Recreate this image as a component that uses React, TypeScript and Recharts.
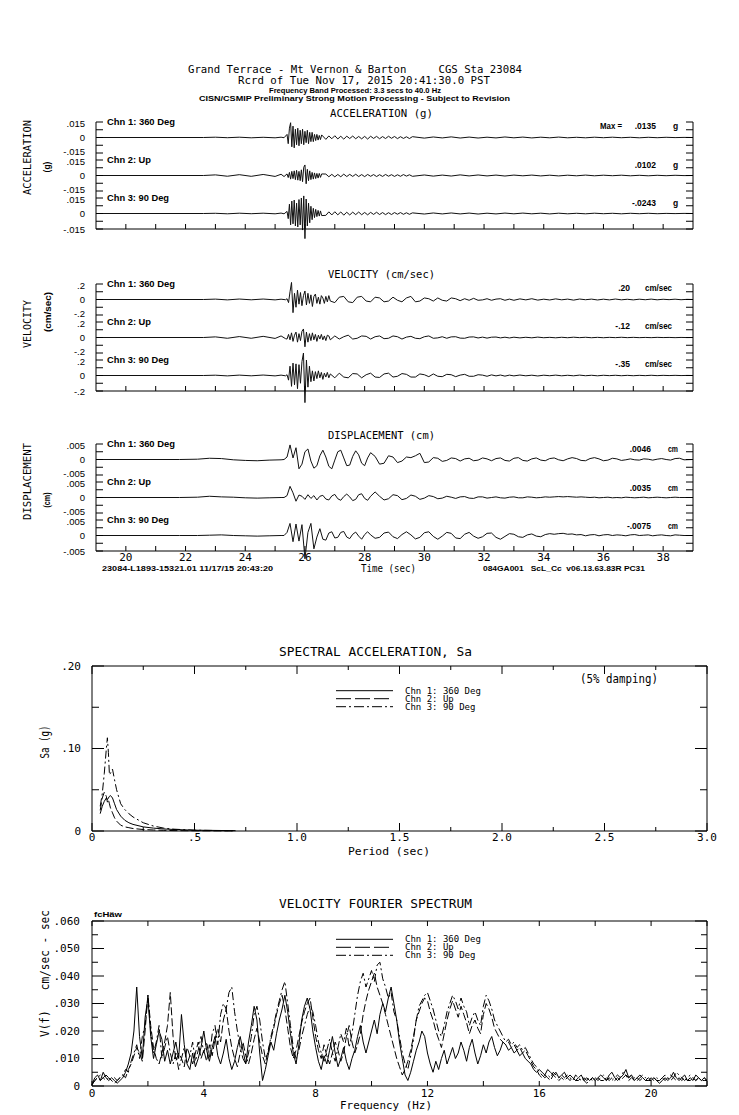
import React from "react";
import { LineChart, Line, XAxis, YAxis } from "recharts";

const MONO = "'DejaVu Sans Mono', monospace";
const SANS = "'Liberation Sans', Arial, sans-serif";

// ---------- acceleration (g) ----------
const ACC_T = [
  19, 22.6, 23.0, 23.4, 23.8, 24.2, 24.6, 25.0, 25.2, 25.3,
  25.40, 25.44, 25.48, 25.52, 25.56, 25.60, 25.64, 25.68, 25.72, 25.76,
  25.80, 25.84, 25.88, 25.92, 25.96, 26.00, 26.04, 26.08, 26.12, 26.16,
  26.20, 26.24, 26.28, 26.32, 26.36, 26.40, 26.44, 26.48, 26.52, 26.56,
  26.7, 26.8, 26.9, 27.0, 27.1, 27.2, 27.3, 27.4, 27.5, 27.6,
  27.7, 27.8, 27.9, 28.0, 28.1, 28.2, 28.3, 28.4, 28.5, 28.6,
  28.7, 28.8, 28.9, 29.0, 29.1, 29.2, 29.3, 29.4, 29.5, 29.6,
  30.0, 30.3, 30.6, 30.9, 31.2, 31.5, 31.8, 32.1, 32.4, 32.7,
  33.0, 33.3, 33.6, 33.9, 34.2, 34.5, 34.8, 35.1, 35.4, 35.7,
  36.0, 36.3, 36.6, 36.9, 37.2, 37.5, 37.8, 38.1, 38.4, 38.7,
  39.0,
];
const ACC_360 = [
  0, 0, .0003, -.0002, .0003, -.0003, .0002, -.0003, .0003, -.0002,
  .003, -.006, .009, .0143, -.009, .011, -.010, .008, -.007, .009,
  -.008, .007, -.006, .008, -.007, .006, -.005, .007, -.006, .005,
  -.004, .005, -.004, .003, -.003, .003, -.0025, .002, -.002, .0025,
  -.0018, .0015, -.0012, .0017, -.0014, .0012, -.0016, .0013, -.001, .0014,
  -.0012, .001, -.0013, .0011, -.0015, .0012, -.0009, .0011, -.0012, .0009,
  -.001, .0012, -.0008, .001, -.0011, .0008, -.0009, .0007, -.001, .0008,
  -.0006, .0005, -.0004, .0006, -.0005, .0004, -.0005, .0003, -.0004, .0005,
  -.0003, .0004, -.0004, .0003, -.0003, .0004, -.0003, .0002, -.0003, .0003,
  -.0002, .0003, -.0002, .0002, -.0003, .0002, -.0002, .0002, -.0001, .0001,
  0,
];
const ACC_UP = [
  0, 0, .0006, -.0007, .0008, -.0008, .001, -.0009, .0012, -.001,
  .0015, -.002, .003, -.0035, .004, -.003, .0045, -.004, .005, -.0045,
  .004, -.005, .0055, -.006, .008, .0102, -.008, .006, -.005, .0045,
  -.004, .003, -.0035, .0025, -.003, .002, -.0025, .002, -.0018, .0015,
  .0014, -.0012, .0011, -.0013, .001, -.0012, .0013, -.001, .0011, -.0009,
  .0012, -.001, .0009, -.0011, .001, -.0008, .0009, -.001, .0008, -.0009,
  .001, -.0007, .0008, -.0009, .0007, -.0008, .0009, -.0006, .0007, -.0008,
  .0005, -.0006, .0004, -.0005, .0006, -.0004, .0005, -.0004, .0004, -.0005,
  .0004, -.0003, .0004, -.0004, .0003, -.0004, .0003, -.0003, .0004, -.0003,
  .0003, -.0002, .0003, -.0003, .0002, -.0003, .0002, -.0002, .0002, -.0001,
  0,
];
const ACC_90 = [
  0, 0, .0002, -.0003, .0003, -.0002, .0003, -.0003, .0004, -.0003,
  .002, -.005, .009, -.011, .012, -.010, .013, -.012, .010, -.013,
  .0135, -.011, .015, -.016, .017, -.0243, .014, -.012, .010, -.009,
  .007, -.006, .005, -.004, .004, -.003, .003, -.0025, .0025, -.002,
  -.0018, .0016, -.0014, .0017, -.0013, .0015, -.0016, .0012, -.0014, .0013,
  -.0011, .0014, -.0012, .001, -.0013, .0011, -.0009, .0012, -.001, .0009,
  -.0011, .0008, -.001, .0009, -.0007, .0009, -.0008, .0007, -.0008, .0006,
  -.0005, .0005, -.0004, .0005, -.0004, .0004, -.0005, .0003, -.0004, .0004,
  -.0003, .0004, -.0003, .0003, -.0004, .0003, -.0003, .0002, -.0003, .0003,
  -.0002, .0002, -.0003, .0002, -.0002, .0002, -.0002, .0001, -.0001, .0001,
  0,
];

// ---------- velocity (cm/sec) ----------
const VEL_T = [
  19, 22.6, 23.0, 23.4, 23.8, 24.2, 24.6, 25.0, 25.2, 25.35,
  25.40, 25.45, 25.50, 25.55, 25.60, 25.65, 25.70, 25.75, 25.80, 25.85,
  25.90, 25.95, 26.00, 26.05, 26.10, 26.15, 26.20, 26.25, 26.30, 26.35,
  26.40, 26.45, 26.50, 26.55, 26.60, 26.65, 26.70, 26.75, 26.80, 26.85,
  27.00, 27.15, 27.30, 27.45, 27.60, 27.75, 27.90, 28.05, 28.20, 28.35,
  28.50, 28.65, 28.80, 28.95, 29.10, 29.25, 29.40, 29.55, 29.70, 29.85,
  30.00, 30.15, 30.30, 30.45, 30.60, 30.75, 30.90, 31.05, 31.20, 31.35,
  31.50, 31.65, 31.80, 31.95, 32.10, 32.25, 32.40, 32.55, 32.70, 32.85,
  33.0, 33.2, 33.4, 33.6, 33.8, 34.0, 34.2, 34.4, 34.6, 34.8,
  35.0, 35.2, 35.4, 35.6, 35.8, 36.0, 36.2, 36.4, 36.6, 36.8,
  37.0, 37.2, 37.4, 37.6, 37.8, 38.0, 38.2, 38.4, 38.6, 38.8,
  39.0,
];
const VEL_360 = [
  0, 0, .005, -.005, .006, -.004, .006, -.005, .004, -.003,
  .01, -.04, .10, .22, -.17, .08, -.10, .12, -.06, .09,
  -.08, .05, .11, -.07, .08, -.05, .06, -.09, .04, .07,
  -.05, .03, -.06, .05, .02, -.05, .04, -.03, .05, -.02,
  -.04, .03, .04, -.03, -.04, .03, .04, -.02, -.03, .03,
  .02, -.03, -.02, .03, -.01, -.03, .02, .04, -.03, -.02,
  .02, .01, -.02, .02, -.01, -.02, .02, .01, -.015, .01,
  -.01, .015, -.01, -.005, .01, -.01, .005, .01, -.01, .005,
  -.01, .008, -.005, .01, -.008, .004, -.006, .008, -.004, .005,
  -.008, .006, -.003, .005, -.006, .004, -.005, .006, -.004, .003,
  -.005, .004, -.003, .005, -.004, .003, -.002, .004, -.003, .002,
  0,
];
const VEL_UP = [
  0, 0, .008, -.01, .012, -.01, .015, -.012, .02, -.015,
  -.02, .04, -.03, .06, -.05, .03, .07, -.06, .05, -.04,
  .08, .11, -.12, .07, -.06, .05, -.04, .06, -.03, .04,
  -.05, .03, -.02, .04, -.03, .02, -.04, .03, .02, -.03,
  .02, -.02, .01, .03, -.02, -.01, .02, .015, -.02, .01,
  .02, -.015, -.01, .02, .01, -.02, .005, .015, -.01, -.015,
  .01, .02, -.01, -.005, .01, -.01, .008, .01, -.008, -.01,
  .006, .008, -.006, .005, -.008, .004, .006, -.005, .004, -.006,
  .004, -.005, .003, -.004, .005, -.003, .002, -.004, .003, -.003,
  .004, -.002, .003, -.003, .002, -.003, .002, -.002, .003, -.002,
  .002, -.002, .001, -.002, .002, -.001, .001, -.002, .001, -.001,
  0,
];
const VEL_90 = [
  0, 0, .004, -.005, .005, -.004, .006, -.005, .005, -.004,
  .01, -.06, .12, -.14, .16, -.12, .15, -.17, .14, -.10,
  .18, .29, -.35, .20, -.15, .12, -.08, .06, -.07, .05,
  -.04, .06, -.03, .04, -.05, .03, -.02, .04, -.03, .02,
  -.03, .03, -.02, -.03, .025, .02, -.03, .01, .03, -.02,
  -.025, .02, .03, -.02, -.01, .025, .015, -.02, -.02, .02,
  .01, -.015, .02, -.01, -.015, .015, .01, -.015, .005, .015,
  -.01, -.01, .01, .005, -.01, .008, -.005, .006, -.008, .005,
  -.005, .006, -.004, .004, -.006, .004, -.003, .005, -.004, .003,
  -.004, .005, -.003, .003, -.004, .003, -.002, .003, -.003, .002,
  -.003, .002, -.002, .003, -.002, .002, -.001, .002, -.001, .001,
  0,
];

// ---------- displacement (cm) ----------
const DIS_T = [
  19, 21.8, 22.4, 22.8, 23.2, 23.6, 24.0, 24.4, 24.8, 25.2,
  25.3, 25.4, 25.5, 25.6, 25.7, 25.8, 25.9, 26.0, 26.1, 26.2,
  26.3, 26.4, 26.5, 26.6, 26.7, 26.8, 26.9, 27.0, 27.1, 27.2,
  27.3, 27.4, 27.5, 27.6, 27.7, 27.8, 27.9, 28.0, 28.1, 28.2,
  28.35, 28.50, 28.65, 28.80, 28.95, 29.10, 29.25, 29.40, 29.55, 29.70,
  29.85, 30.00, 30.15, 30.30, 30.45, 30.60, 30.75, 30.90, 31.05, 31.20,
  31.35, 31.50, 31.65, 31.80, 31.95, 32.10, 32.25, 32.40, 32.55, 32.70,
  32.85, 33.00, 33.15, 33.30, 33.45, 33.60, 33.75, 33.90, 34.05, 34.20,
  34.35, 34.50, 34.65, 34.80, 34.95, 35.10, 35.25, 35.40, 35.55, 35.70,
  35.85, 36.00, 36.15, 36.30, 36.45, 36.60, 36.75, 36.90, 37.05, 37.20,
  37.35, 37.50, 37.65, 37.80, 37.95, 38.10, 38.25, 38.40, 38.55, 38.70,
  39.0,
];
const DIS_360 = [
  0, 0, .0001, .0004, .0003, -.0001, -.0003, -.0004, -.0002, -.0001,
  0, .0008, .0047, .0005, .0038, -.003, -.0015, .0025, .0034, -.0005,
  -.0028, -.002, .0012, .003, .0008, -.0022, -.003, -.0002, .0025, .003,
  .0005, -.002, -.0018, .001, .0028, .0015, -.0012, -.002, .0005, .0022,
  .001, -.0015, -.0012, .0012, .0008, -.001, -.0005, .0008, .0006, .0012,
  .002, -.001, -.0008, .0006, .0004, -.0006, -.0003, .0005, .0003, -.0005,
  .0002, .0004, -.0004, -.0002, .0005, .0002, -.0004, .0003, .0005, -.0003,
  -.0005, .0004, .0006, -.0003, -.0005, .0002, .0005, -.0002, -.0004, .0003,
  .0005, -.0001, -.0004, .0002, .0006, .0003, -.0003, -.0004, .0003, .0006,
  .0002, -.0004, -.0002, .0004, .0002, -.0003, -.0001, .0002, -.0001, -.0002,
  .0002, .0001, -.0002, .0001, .0003, 0, -.0002, .0003, .0004, -.0001,
  0,
];
const DIS_UP = [
  0, 0, .0001, .0004, .0002, .0001, -.0001, -.0002, -.0001, 0,
  0, .0006, .0036, .0015, -.0012, .0008, .0004, -.0006, .0009, -.0003,
  .0006, -.0008, .0004, .0007, -.0005, -.0008, .0005, .001, -.0004, -.0009,
  .0003, .0011, .0002, -.001, -.0006, .0009, .0012, -.0003, -.0009, .0004,
  .0018, .0004, -.0008, -.0004, .0009, .0006, -.0007, -.0003, .0008, .0004,
  -.0006, -.0002, .0006, .0003, -.0004, -.0002, .0004, .0001, -.0003, .0002,
  .0003, -.0002, -.0003, .0002, .0002, -.0002, 0, .0002, -.0001, -.0002,
  .0001, .0002, -.0001, -.0001, .0002, .0001, -.0001, 0, .0002, .0001,
  .0002, .0003, .0002, .0003, .0002, .0001, .0002, .0001, 0, .0001,
  -.0001, 0, .0001, -.0001, 0, -.0001, .0001, 0, -.0001, 0,
  .0001, -.0001, 0, .0001, 0, -.0001, 0, .0001, 0, 0,
  0,
];
const DIS_90 = [
  0, 0, 0, .0001, .0002, 0, -.0001, -.0002, -.0001, 0,
  0, .001, .0039, -.002, .0037, -.0018, .0035, -.0075, .001, .0039,
  -.0043, -.0005, .0022, -.0012, -.0015, .0008, .0012, -.0008, -.0006, .001,
  .0013, -.0005, -.001, .0004, .0011, -.0002, -.0012, .0003, .0012, .0002,
  -.0009, -.0006, .0008, .0011, -.0004, -.001, .0003, .0012, .0002, -.0011,
  -.0006, .0009, .0012, -.0003, -.0012, -.0002, .001, .0007, -.0008, -.001,
  .0004, .001, -.0002, -.0009, -.0004, .0007, .0008, -.0006, -.0012, -.0003,
  .0006, .0004, -.0004, -.0006, .0002, .0005, -.0002, -.0004, .0003, .0006,
  .0004, .0006, .0007, .0004, .0005, .0002, .0003, -.0001, .0002, .0003,
  -.0001, .0002, .0003, 0, .0002, .0001, -.0001, .0002, .0003, 0,
  .0001, .0002, -.0001, .0001, .0002, 0, -.0001, .0002, .0001, 0,
  0,
];
const TIME_TICKS = [20, 21, 22, 23, 24, 25, 26, 27, 28, 29, 30, 31, 32, 33, 34, 35, 36, 37, 38];

// ---------- spectral acceleration, 5% damping ----------
const PERIOD = [.04, .05, .06, .07, .075, .08, .085, .09, .1, .11, .12, .14, .16, .18, .2, .25, .3, .35, .4, .5, .6, .7];
const SA_360 = [.021, .030, .036, .040, .038, .040, .042, .043, .040, .033, .026, .018, .013, .010, .008, .005, .0035, .0025, .0018, .001, .0007, .0004];
const SA_UP = [.025, .040, .047, .042, .035, .038, .033, .028, .022, .016, .012, .007, .005, .004, .003, .0018, .0012, .0008, .0005, .0003, .0002, .0001];
const SA_90 = [.030, .045, .070, .100, .113, .095, .068, .070, .075, .062, .050, .033, .026, .021, .017, .010, .006, .0035, .0022, .001, .0006, .0003];
const SA_X_TICKS = [0, .25, .5, .75, 1, 1.25, 1.5, 1.75, 2, 2.25, 2.5, 2.75, 3];
const SA_Y_TICKS = [0, .05, .1, .15, .2];

// ---------- velocity fourier spectrum ----------
const FREQ = [
  0, .1, .2, .3, .4, .5, .6, .7, .8, .9,
  1, 1.1, 1.2, 1.3, 1.4, 1.5, 1.6, 1.7, 1.8, 1.9,
  2, 2.1, 2.2, 2.3, 2.4, 2.5, 2.6, 2.7, 2.8, 2.9,
  3, 3.1, 3.2, 3.3, 3.4, 3.5, 3.6, 3.7, 3.8, 3.9,
  4, 4.1, 4.2, 4.3, 4.4, 4.5, 4.6, 4.7, 4.8, 4.9,
  5, 5.1, 5.2, 5.3, 5.4, 5.5, 5.6, 5.7, 5.8, 5.9,
  6, 6.1, 6.2, 6.3, 6.4, 6.5, 6.6, 6.7, 6.8, 6.9,
  7, 7.1, 7.2, 7.3, 7.4, 7.5, 7.6, 7.7, 7.8, 7.9,
  8, 8.1, 8.2, 8.3, 8.4, 8.5, 8.6, 8.7, 8.8, 8.9,
  9, 9.1, 9.2, 9.3, 9.4, 9.5, 9.6, 9.7, 9.8, 9.9,
  10, 10.1, 10.2, 10.3, 10.4, 10.5, 10.6, 10.7, 10.8, 10.9,
  11, 11.1, 11.2, 11.3, 11.4, 11.5, 11.6, 11.7, 11.8, 11.9,
  12, 12.1, 12.2, 12.3, 12.4, 12.5, 12.6, 12.7, 12.8, 12.9,
  13, 13.1, 13.2, 13.3, 13.4, 13.5, 13.6, 13.7, 13.8, 13.9,
  14, 14.1, 14.2, 14.3, 14.4, 14.5, 14.6, 14.7, 14.8, 14.9,
  15, 15.1, 15.2, 15.3, 15.4, 15.5, 15.6, 15.7, 15.8, 15.9,
  16, 16.1, 16.2, 16.3, 16.4, 16.5, 16.6, 16.7, 16.8, 16.9,
  17, 17.1, 17.2, 17.3, 17.4, 17.5, 17.6, 17.7, 17.8, 17.9,
  18, 18.1, 18.2, 18.3, 18.4, 18.5, 18.6, 18.7, 18.8, 18.9,
  19, 19.1, 19.2, 19.3, 19.4, 19.5, 19.6, 19.7, 19.8, 19.9,
  20, 20.1, 20.2, 20.3, 20.4, 20.5, 20.6, 20.7, 20.8, 20.9,
  21, 21.1, 21.2, 21.3, 21.4, 21.5, 21.6, 21.7, 21.8, 21.9,
  22,
];
const FS_360 = [
  .0005, .003, .004, .002, .005, .003, .002, .003, .002, .001,
  .002, .003, .005, .008, .012, .020, .036, .018, .010, .025,
  .032, .018, .010, .015, .020, .017, .009, .013, .008, .012,
  .016, .010, .026, .015, .008, .006, .012, .007, .010, .014,
  .020, .013, .009, .014, .018, .011, .008, .012, .017, .010,
  .006, .009, .014, .018, .013, .008, .016, .022, .029, .024,
  .012, .002, .006, .011, .016, .013, .019, .024, .028, .033,
  .027, .019, .012, .008, .015, .024, .029, .032, .028, .020,
  .014, .009, .006, .011, .008, .013, .018, .012, .007, .010,
  .014, .009, .006, .010, .013, .018, .022, .016, .012, .016,
  .020, .024, .019, .026, .030, .027, .032, .036, .030, .024,
  .016, .010, .004, .002, .005, .009, .013, .016, .020, .018,
  .012, .008, .005, .009, .006, .010, .013, .008, .011, .014,
  .010, .012, .016, .013, .009, .014, .017, .012, .008, .011,
  .015, .012, .016, .018, .014, .011, .013, .016, .015, .013,
  .014, .012, .013, .011, .012, .010, .009, .008, .006, .005,
  .006, .005, .004, .006, .005, .004, .005, .003, .004, .005,
  .003, .004, .003, .002, .003, .004, .002, .003, .002, .003,
  .002, .003, .004, .003, .002, .004, .005, .003, .002, .003,
  .004, .006, .003, .004, .002, .003, .004, .003, .002, .003,
  .002, .003, .002, .001, .002, .003, .002, .003, .005, .003,
  .002, .003, .004, .002, .003, .002, .004, .003, .002, .003,
  .002,
];
const FS_UP = [
  .0005, .002, .003, .002, .003, .002, .003, .002, .001, .002,
  .003, .004, .003, .006, .008, .011, .014, .012, .009, .020,
  .033, .022, .014, .010, .008, .012, .016, .022, .034, .018,
  .009, .012, .010, .007, .014, .011, .008, .012, .016, .010,
  .013, .009, .015, .011, .017, .021, .016, .024, .028, .020,
  .014, .010, .007, .012, .016, .011, .008, .012, .017, .021,
  .016, .011, .008, .013, .017, .021, .026, .030, .033, .028,
  .021, .014, .010, .013, .018, .023, .027, .030, .032, .025,
  .018, .013, .010, .015, .011, .008, .012, .016, .013, .009,
  .012, .018, .022, .016, .012, .015, .019, .026, .031, .035,
  .038, .041, .036, .033, .030, .026, .022, .018, .014, .010,
  .007, .004, .006, .009, .013, .018, .024, .027, .030, .032,
  .031, .027, .024, .020, .017, .014, .019, .024, .028, .031,
  .028, .025, .029, .026, .023, .019, .022, .024, .021, .019,
  .026, .030, .028, .025, .021, .019, .017, .016, .015, .016,
  .014, .015, .013, .014, .012, .013, .011, .009, .007, .006,
  .004, .003, .004, .003, .002, .004, .003, .002, .003, .002,
  .003, .002, .003, .002, .002, .003, .002, .001, .002, .003,
  .002, .003, .002, .002, .003, .002, .003, .002, .003, .002,
  .003, .004, .002, .003, .002, .003, .002, .003, .002, .002,
  .002, .003, .002, .002, .003, .002, .003, .004, .003, .002,
  .003, .002, .003, .002, .002, .003, .002, .003, .002, .002,
  .002,
];
const FS_90 = [
  .0005, .002, .003, .004, .003, .004, .003, .002, .003, .002,
  .003, .004, .006, .005, .009, .012, .015, .010, .018, .022,
  .033, .020, .012, .016, .022, .010, .014, .018, .012, .008,
  .012, .006, .010, .014, .008, .011, .016, .009, .013, .018,
  .012, .016, .010, .019, .022, .015, .026, .030, .028, .034,
  .036, .027, .020, .014, .010, .008, .012, .018, .026, .029,
  .024, .016, .010, .012, .018, .022, .027, .031, .035, .038,
  .030, .022, .014, .010, .013, .018, .022, .026, .029, .027,
  .022, .016, .012, .009, .013, .017, .012, .009, .014, .019,
  .016, .021, .014, .019, .026, .033, .038, .041, .036, .039,
  .042, .038, .044, .045, .039, .036, .032, .034, .027, .024,
  .018, .012, .008, .006, .011, .017, .024, .029, .031, .033,
  .034, .031, .028, .024, .020, .018, .022, .027, .030, .033,
  .031, .028, .032, .029, .027, .022, .025, .027, .024, .022,
  .029, .033, .031, .028, .024, .022, .020, .018, .016, .017,
  .015, .016, .014, .015, .013, .014, .012, .010, .008, .007,
  .005, .004, .003, .004, .003, .005, .004, .003, .004, .003,
  .004, .003, .002, .004, .003, .002, .003, .002, .003, .002,
  .003, .002, .003, .004, .002, .003, .002, .003, .004, .003,
  .005, .004, .003, .004, .003, .002, .003, .004, .003, .002,
  .003, .002, .003, .002, .003, .004, .003, .002, .003, .005,
  .004, .003, .002, .003, .004, .003, .002, .003, .002, .003,
  .002,
];
const FS_X_TICKS = [0, 2, 4, 6, 8, 10, 12, 14, 16, 18, 20, 22];
const FS_Y_TICKS = [0, .005, .01, .015, .02, .025, .03, .035, .04, .045, .05, .055, .06];

// ---------- helpers ----------
const W = 739;
const dec = (v: number, d: number) => (Math.abs(v) < 1e-12 ? "0" : v.toFixed(d).replace(/^(-?)0\./, "$1."));
const isMult = (v: number, m: number) => Math.abs(v / m - Math.round(v / m)) < 1e-6;

type TickCfg = {
  side: "left" | "right" | "top" | "bottom";
  len: (v: number) => number;
  label?: (v: number) => string;
  labelDy?: (v: number) => number;
  gap?: number;
  size?: number;
  font?: string;
  tail?: (v: number) => number;
};

function makeTick(c: TickCfg) {
  return (p: any) => {
    const v = p.payload.value as number;
    const x = p.x as number;
    const y = p.y as number;
    const L = c.len(v);
    const s = c.label ? c.label(v) : "";
    const g = c.gap ?? 10;
    const tl = c.tail ? c.tail(v) : 0;
    let ln = [x, y, x, y];
    let tx = x;
    let ty = y;
    let anchor = "middle";
    if (c.side === "left") { ln = [x, y, x + L, y]; tx = x - g; anchor = "end"; }
    else if (c.side === "right") { ln = [x, y, x - L, y]; tx = x + g; anchor = "start"; }
    else if (c.side === "bottom") { ln = [x, y, x, y - L]; ty = y + g; }
    else { ln = [x, y, x, y + L]; ty = y - g; }
    if (c.labelDy) ty += c.labelDy(v);
    return (
      <g>
        <line x1={ln[0]} y1={ln[1]} x2={ln[2]} y2={ln[3]} stroke="#000" strokeWidth={1} />
        {tl > 0 && <line x1={x} y1={y} x2={x} y2={y + tl} stroke="#000" strokeWidth={1} />}
        {s !== "" && (
          <text x={tx} y={ty} textAnchor={anchor} dominantBaseline="central" fontSize={c.size ?? 10}
            fontFamily={c.font ?? SANS} fill="#000">{s}</text>
        )}
      </g>
    );
  };
}

function Txt({ x, y, s, size = 11, font = MONO, anchor = "start", len, bold = false, rot = false }: {
  x: number; y: number; s: string; size?: number; font?: string; anchor?: string; len?: number; bold?: boolean; rot?: boolean;
}) {
  return (
    <text x={x} y={y} fontSize={size} fontFamily={font} fontWeight={bold ? 700 : 400} textAnchor={anchor}
      dominantBaseline="central" textLength={len} lengthAdjust={len ? "spacingAndGlyphs" : undefined}
      transform={rot ? `rotate(-90 ${x} ${y})` : undefined} fill="#000" style={{ whiteSpace: "pre" }}>{s}</text>
  );
}

// one bracketed trace panel of the time-history page
const PAD = 30, PH = 31, XH = 20, YLW = 50, YRW = 10, PL = 96, PR = 693;

function Trace({ t, v, top, range, digits, axis, connect }: {
  t: number[]; v: number[]; top: number; range: number; digits: number; axis: "none" | "ticks" | "labels"; connect: boolean;
}) {
  const data = t.map((x, i) => ({ t: x, v: v[i] }));
  const yTicks = [-range, -range / 2, 0, range / 2, range];
  const edge = (y: number) => Math.abs(Math.abs(y) - range) < range * 1e-6;
  const yLabel = (y: number) => (Math.abs(y) < range * 1e-6 ? "0" : edge(y) ? dec(y, digits) : "");
  // the edge labels of stacked panels sit close together: pull them apart a little
  const yDy = (y: number) => (edge(y) ? (y > 0 ? 1.5 : -2) : 0);
  const tail = (y: number) => (connect && y < 0 && edge(y) ? 7 : 0);
  return (
    <div style={{ position: "absolute", left: 0, top: top - PAD }}>
      <LineChart width={W} height={PH + 2 * PAD} data={data}
        margin={{ top: PAD, right: W - PR - YRW, bottom: PAD - XH, left: PL - YLW }}>
        <XAxis dataKey="t" type="number" domain={[19, 39]} allowDataOverflow ticks={TIME_TICKS} interval={0}
          height={XH} stroke="#000" axisLine={axis !== "none"} tickLine={false} tickSize={0} tickMargin={0}
          tick={axis === "none" ? false : makeTick({
            side: "bottom", len: () => 5, gap: 6, size: 11, font: MONO,
            label: axis === "labels" ? (x) => (x % 2 === 0 ? String(x) : "") : undefined,
          })} />
        <YAxis yAxisId="l" type="number" domain={[-range, range]} allowDataOverflow ticks={yTicks} interval={0}
          width={YLW} stroke="#000" tickLine={false} tickSize={0} tickMargin={0}
          tick={makeTick({ side: "left", len: () => 7, label: yLabel, labelDy: connect || axis === "none" ? yDy : (y) => (y > 0 ? 1.5 : 0), gap: 11, size: 9.5, tail })} />
        <YAxis yAxisId="r" orientation="right" type="number" domain={[-range, range]} allowDataOverflow ticks={yTicks}
          interval={0} width={YRW} stroke="#000" tickLine={false} tickSize={0} tickMargin={0}
          tick={makeTick({ side: "right", len: () => 7, tail })} />
        <Line yAxisId="l" dataKey="v" type="linear" stroke="#111" strokeWidth={1} dot={false} isAnimationActive={false} />
      </LineChart>
    </div>
  );
}

const DASH = "8 3";
const DASHDOT = "8 3 2 3";

function Legend({ y }: { y: number }) {
  return (
    <g>
      <line x1={336} x2={393} y1={y} y2={y} stroke="#000" />
      <line x1={336} x2={393} y1={y + 8} y2={y + 8} stroke="#000" strokeDasharray="15 4" />
      <line x1={336} x2={393} y1={y + 16} y2={y + 16} stroke="#000" strokeDasharray="10 3 2 3" />
      <Txt x={405} y={y} s="Chn 1: 360 Deg" size={9} />
      <Txt x={405} y={y + 8} s="Chn 2: Up" size={9} />
      <Txt x={405} y={y + 16} s="Chn 3: 90 Deg" size={9} />
    </g>
  );
}

export default function App() {
  const saData = PERIOD.map((p, i) => ({ p, a: SA_360[i], b: SA_UP[i], c: SA_90[i] }));
  const fsData = FREQ.map((f, i) => ({ f, a: FS_360[i], b: FS_UP[i], c: FS_90[i] }));

  const frameTicks = (side: TickCfg["side"], major: (v: number) => boolean, lMaj: number, lMin: number, label?: (v: number) => string, gap = 11) =>
    makeTick({ side, len: (v) => (major(v) ? lMaj : lMin), label, gap, size: 11, font: MONO });

  return (
    <div className="sm" style={{ position: "absolute", left: 0, top: 0, width: W, height: 1115, background: "#fff" }}>
      <style>{`.sm [clip-path]{clip-path:none !important}`}</style>

      {/* acceleration */}
      <Trace t={ACC_T} v={ACC_360} top={122} range={0.015} digits={3} axis="none" connect />
      <Trace t={ACC_T} v={ACC_UP} top={160} range={0.015} digits={3} axis="none" connect />
      <Trace t={ACC_T} v={ACC_90} top={198} range={0.015} digits={3} axis="ticks" connect={false} />
      {/* velocity */}
      <Trace t={VEL_T} v={VEL_360} top={283.5} range={0.2} digits={1} axis="none" connect />
      <Trace t={VEL_T} v={VEL_UP} top={321.5} range={0.2} digits={1} axis="none" connect />
      <Trace t={VEL_T} v={VEL_90} top={359.5} range={0.2} digits={1} axis="ticks" connect={false} />
      {/* displacement */}
      <Trace t={DIS_T} v={DIS_360} top={444} range={0.005} digits={3} axis="none" connect />
      <Trace t={DIS_T} v={DIS_UP} top={482} range={0.005} digits={3} axis="none" connect />
      <Trace t={DIS_T} v={DIS_90} top={520} range={0.005} digits={3} axis="labels" connect={false} />

      {/* spectral acceleration */}
      <div style={{ position: "absolute", left: 0, top: 636 }}>
        <LineChart width={W} height={225} data={saData} margin={{ top: 20, right: 22, bottom: 10, left: 52 }}>
          <XAxis xAxisId="b" dataKey="p" type="number" domain={[0, 3]} allowDataOverflow ticks={SA_X_TICKS} interval={0}
            height={20} stroke="#000" tickLine={false} tickSize={0} tickMargin={0}
            tick={frameTicks("bottom", (v) => isMult(v, 0.5), 8, 4, (v) => (isMult(v, 0.5) ? dec(v, 1) : ""), 6.5)} />
          <XAxis xAxisId="t" orientation="top" dataKey="p" type="number" domain={[0, 3]} allowDataOverflow ticks={SA_X_TICKS}
            interval={0} height={10} stroke="#000" tickLine={false} tickSize={0} tickMargin={0}
            tick={frameTicks("top", (v) => isMult(v, 0.5), 8, 4)} />
          <YAxis yAxisId="l" type="number" domain={[0, 0.2]} allowDataOverflow ticks={SA_Y_TICKS} interval={0} width={40}
            stroke="#000" tickLine={false} tickSize={0} tickMargin={0}
            tick={frameTicks("left", (v) => isMult(v, 0.1), 12, 7, (v) => (isMult(v, 0.1) ? dec(v, 2) : ""), 11)} />
          <YAxis yAxisId="r" orientation="right" type="number" domain={[0, 0.2]} allowDataOverflow ticks={SA_Y_TICKS}
            interval={0} width={10} stroke="#000" tickLine={false} tickSize={0} tickMargin={0}
            tick={frameTicks("right", (v) => isMult(v, 0.1), 12, 7)} />
          <Line xAxisId="b" yAxisId="l" dataKey="a" stroke="#000" strokeWidth={1} dot={false} isAnimationActive={false} />
          <Line xAxisId="b" yAxisId="l" dataKey="b" stroke="#000" strokeWidth={1} strokeDasharray={DASH} dot={false} isAnimationActive={false} />
          <Line xAxisId="b" yAxisId="l" dataKey="c" stroke="#000" strokeWidth={1} strokeDasharray={DASHDOT} dot={false} isAnimationActive={false} />
        </LineChart>
      </div>

      {/* velocity fourier spectrum */}
      <div style={{ position: "absolute", left: 0, top: 891 }}>
        <LineChart width={W} height={225} data={fsData} margin={{ top: 20, right: 22, bottom: 10, left: 52 }}>
          <XAxis xAxisId="b" dataKey="f" type="number" domain={[0, 22]} allowDataOverflow ticks={FS_X_TICKS} interval={0}
            height={20} stroke="#000" tickLine={false} tickSize={0} tickMargin={0}
            tick={frameTicks("bottom", () => true, 5, 5, (v) => (v % 4 === 0 && v < 22 ? String(v) : ""), 7)} />
          <XAxis xAxisId="t" orientation="top" dataKey="f" type="number" domain={[0, 22]} allowDataOverflow ticks={FS_X_TICKS}
            interval={0} height={10} stroke="#000" tickLine={false} tickSize={0} tickMargin={0}
            tick={frameTicks("top", () => true, 5, 5)} />
          <YAxis yAxisId="l" type="number" domain={[0, 0.06]} allowDataOverflow ticks={FS_Y_TICKS} interval={0} width={40}
            stroke="#000" tickLine={false} tickSize={0} tickMargin={0}
            tick={frameTicks("left", (v) => isMult(v, 0.01), 12, 6, (v) => (isMult(v, 0.01) ? dec(v, 3) : ""), 12)} />
          <YAxis yAxisId="r" orientation="right" type="number" domain={[0, 0.06]} allowDataOverflow ticks={FS_Y_TICKS}
            interval={0} width={10} stroke="#000" tickLine={false} tickSize={0} tickMargin={0}
            tick={frameTicks("right", (v) => isMult(v, 0.01), 12, 6)} />
          <Line xAxisId="b" yAxisId="l" dataKey="a" stroke="#000" strokeWidth={1} dot={false} isAnimationActive={false} />
          <Line xAxisId="b" yAxisId="l" dataKey="b" stroke="#000" strokeWidth={1} strokeDasharray={DASH} dot={false} isAnimationActive={false} />
          <Line xAxisId="b" yAxisId="l" dataKey="c" stroke="#000" strokeWidth={1} strokeDasharray={DASHDOT} dot={false} isAnimationActive={false} />
        </LineChart>
      </div>

      {/* page text */}
      <svg width={W} height={1115} style={{ position: "absolute", left: 0, top: 0, pointerEvents: "none" }}>
        <Txt x={188} y={69.5} len={334} size={10} s="Grand Terrace - Mt Vernon & Barton     CGS Sta 23084" />
        <Txt x={238} y={80} len={252} size={10} s="Rcrd of Tue Nov 17, 2015 20:41:30.0 PST" />
        <Txt x={269} y={90} len={172} size={7.5} font={SANS} bold s="Frequency Band Processed: 3.3 secs to 40.0 Hz" />
        <Txt x={199} y={98.5} len={311} size={7.5} font={SANS} bold s="CISN/CSMIP Preliminary Strong Motion Processing - Subject to Revision" />

        <Txt x={330} y={113} len={103} s="ACCELERATION (g)" />
        <Txt x={328} y={274} len={107} s="VELOCITY (cm/sec)" />
        <Txt x={328} y={435} len={107} s="DISPLACEMENT (cm)" />

        <Txt x={27.5} y={157.5} len={75} anchor="middle" rot s="ACCELERATION" />
        <Txt x={47} y={167} anchor="middle" rot size={8.5} font={SANS} bold s="(g)" />
        <Txt x={27.5} y={324} len={48} anchor="middle" rot s="VELOCITY" />
        <Txt x={48} y={312} len={40} anchor="middle" rot size={8.5} font={SANS} bold s="(cm/sec)" />
        <Txt x={27.5} y={481.5} len={77} anchor="middle" rot s="DISPLACEMENT" />
        <Txt x={47} y={500} len={15} anchor="middle" rot size={8.5} font={SANS} bold s="(cm)" />

        {[122, 283.5, 444].map((y) => <Txt key={"a" + y} x={107} y={y} len={68} size={8.5} font={SANS} bold s="Chn 1: 360 Deg" />)}
        {[160, 321.5, 482].map((y) => <Txt key={"b" + y} x={107} y={y} len={44} size={8.5} font={SANS} bold s="Chn 2: Up" />)}
        {[198, 359.5, 520].map((y) => <Txt key={"c" + y} x={107} y={y} len={62} size={8.5} font={SANS} bold s="Chn 3: 90 Deg" />)}

        <Txt x={600} y={126} len={22} size={8.5} font={SANS} bold s="Max =" />
        <Txt x={656} y={126} anchor="end" size={8.5} font={SANS} bold s=".0135" />
        <Txt x={656} y={164.5} anchor="end" size={8.5} font={SANS} bold s=".0102" />
        <Txt x={656} y={203} anchor="end" size={8.5} font={SANS} bold s="-.0243" />
        {[126, 164.5, 203].map((y) => <Txt key={"g" + y} x={673} y={y} size={8.5} font={SANS} bold s="g" />)}

        <Txt x={630} y={287.5} anchor="end" size={8.5} font={SANS} bold s=".20" />
        <Txt x={630} y={325.5} anchor="end" size={8.5} font={SANS} bold s="-.12" />
        <Txt x={630} y={364} anchor="end" size={8.5} font={SANS} bold s="-.35" />
        {[287.5, 325.5, 364].map((y) => <Txt key={"v" + y} x={645} y={y} len={27} size={8.5} font={SANS} bold s="cm/sec" />)}

        <Txt x={651} y={449} anchor="end" size={8.5} font={SANS} bold s=".0046" />
        <Txt x={651} y={487.5} anchor="end" size={8.5} font={SANS} bold s=".0035" />
        <Txt x={651} y={525.5} anchor="end" size={8.5} font={SANS} bold s="-.0075" />
        {[449, 487.5, 525.5].map((y) => <Txt key={"d" + y} x={668} y={y} len={10} size={8.5} font={SANS} bold s="cm" />)}

        <Txt x={361} y={568} len={55} size={10} s="Time (sec)" />
        <Txt x={102} y={568} len={171} size={8} font={SANS} bold s="23084-L1893-15321.01 11/17/15 20:43:20" />
        <Txt x={483} y={568} len={162} size={8} font={SANS} bold s="084GA001   ScL_Cc  v06.13.63.83R PC31" />

        <Txt x={279} y={651} len={193} size={13} s="SPECTRAL ACCELERATION, Sa" />
        <Txt x={580} y={679} len={78} size={11.5} s="(5% damping)" />
        <Legend y={690.7} />
        <Txt x={45} y={742} len={33} size={12} anchor="middle" rot s="Sa (g)" />
        <Txt x={348} y={851} len={82} size={10.5} s="Period (sec)" />

        <Txt x={279} y={903} len={193} size={13} s="VELOCITY FOURIER SPECTRUM" />
        <Txt x={94} y={914} len={28} size={8} font={SANS} bold s="fcHäw" />
        <Legend y={939.3} />
        <Txt x={45} y={973.5} len={127} size={12} anchor="middle" rot s="V(f)   cm/sec - sec" />
        <Txt x={340} y={1105} len={92} size={11} s="Frequency (Hz)" />
      </svg>
    </div>
  );
}
